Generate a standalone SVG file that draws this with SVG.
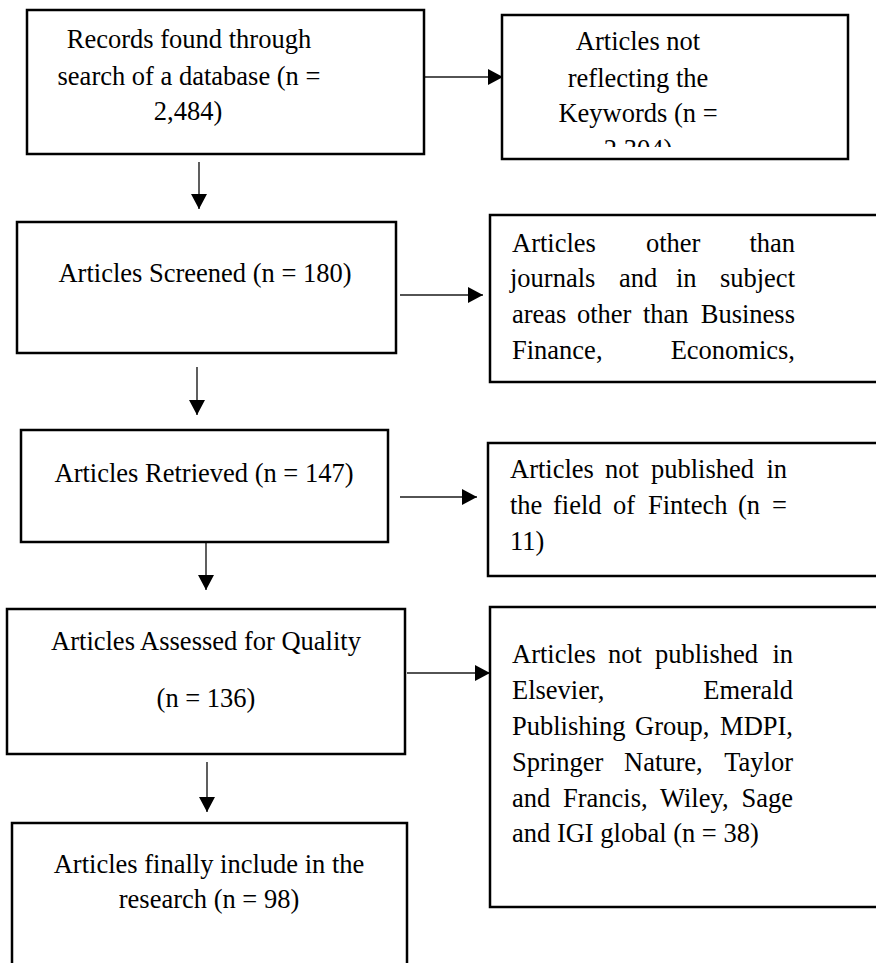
<svg xmlns="http://www.w3.org/2000/svg" width="876" height="963" viewBox="0 0 876 963">
<style>
.box{fill:#fff;stroke:#000;stroke-width:2.5}
.t{font-family:"Liberation Serif","Times New Roman",serif;font-size:26.5px;fill:#000}
.c{text-anchor:middle}
.ln{stroke:#1a1a1a;stroke-width:1.4;fill:none}
</style>
<defs>
<marker id="ah" markerWidth="16" markerHeight="16" refX="15" refY="8" orient="auto" markerUnits="userSpaceOnUse">
<path d="M0,0 L15,8 L0,16 Z" fill="#000"/>
</marker>
<clipPath id="clip2"><rect x="503" y="16" width="344" height="131"/></clipPath>
</defs>
<rect width="876" height="963" fill="#fff"/>
<g id="connectors">
<line class="ln" x1="425" y1="77" x2="503" y2="77" marker-end="url(#ah)"/>
<line class="ln" x1="199" y1="162" x2="199" y2="209" marker-end="url(#ah)"/>
<line class="ln" x1="400" y1="295" x2="483" y2="295" marker-end="url(#ah)"/>
<line class="ln" x1="197" y1="367" x2="197" y2="415" marker-end="url(#ah)"/>
<line class="ln" x1="400" y1="497" x2="477" y2="497" marker-end="url(#ah)"/>
<line class="ln" x1="206" y1="543" x2="206" y2="590" marker-end="url(#ah)"/>
<line class="ln" x1="407" y1="673" x2="490" y2="673" marker-end="url(#ah)"/>
<line class="ln" x1="207" y1="762" x2="207" y2="812" marker-end="url(#ah)"/>
</g>
<g id="n1">
<rect class="box" x="27" y="10" width="397" height="144"/>
<text class="t c" x="189" y="48">Records found through</text>
<text class="t c" x="189" y="85">search of a database (n =</text>
<text class="t c" x="188" y="120">2,484)</text>
</g>
<g id="n2">
<rect class="box" x="502" y="15" width="346" height="144"/>
<g clip-path="url(#clip2)">
<text class="t c" x="638" y="50">Articles not</text>
<text class="t c" x="638" y="87">reflecting the</text>
<text class="t c" x="638" y="122">Keywords (n =</text>
<text class="t c" x="638" y="158">2,304)</text>
</g>
</g>
<g id="n3">
<rect class="box" x="17" y="222" width="379" height="131"/>
<text class="t c" x="205" y="282">Articles Screened (n = 180)</text>
</g>
<g id="n4">
<rect class="box" x="490" y="215" width="390" height="167"/>
<text class="t"><tspan x="512" y="252">Articles</tspan><tspan x="646" y="252">other</tspan><tspan x="795" y="252" text-anchor="end">than</tspan></text>
<text class="t"><tspan x="510" y="287">journals</tspan><tspan x="619" y="287">and</tspan><tspan x="676" y="287">in</tspan><tspan x="795" y="287" text-anchor="end">subject</tspan></text>
<text class="t"><tspan x="512" y="323">areas</tspan><tspan x="577" y="323">other</tspan><tspan x="643" y="323">than</tspan><tspan x="795" y="323" text-anchor="end">Business</tspan></text>
<text class="t"><tspan x="512" y="359">Finance,</tspan><tspan x="795" y="359" text-anchor="end">Economics,</tspan></text>
</g>
<g id="n5">
<rect class="box" x="21" y="430" width="367" height="112"/>
<text class="t c" x="204" y="482">Articles Retrieved (n = 147)</text>
</g>
<g id="n6">
<rect class="box" x="488" y="443" width="392" height="133"/>
<text class="t"><tspan x="510" y="478">Articles</tspan><tspan x="605" y="478">not</tspan><tspan x="651" y="478">published</tspan><tspan x="787" y="478" text-anchor="end">in</tspan></text>
<text class="t"><tspan x="510" y="514">the</tspan><tspan x="553" y="514">field</tspan><tspan x="613" y="514">of</tspan><tspan x="648" y="514">Fintech</tspan><tspan x="738" y="514">(n</tspan><tspan x="787" y="514" text-anchor="end">=</tspan></text>
<text class="t" x="510" y="550">11)</text>
</g>
<g id="n7">
<rect class="box" x="7" y="609" width="398" height="145"/>
<text class="t c" x="206" y="650">Articles Assessed for Quality</text>
<text class="t c" x="206" y="707">(n = 136)</text>
</g>
<g id="n8">
<rect class="box" x="490" y="607" width="390" height="300"/>
<text class="t"><tspan x="512" y="663">Articles</tspan><tspan x="608" y="663">not</tspan><tspan x="655" y="663">published</tspan><tspan x="793" y="663" text-anchor="end">in</tspan></text>
<text class="t"><tspan x="512" y="699">Elsevier,</tspan><tspan x="793" y="699" text-anchor="end">Emerald</tspan></text>
<text class="t"><tspan x="512" y="735">Publishing</tspan><tspan x="635" y="735">Group,</tspan><tspan x="793" y="735" text-anchor="end">MDPI,</tspan></text>
<text class="t"><tspan x="512" y="771">Springer</tspan><tspan x="624" y="771">Nature,</tspan><tspan x="793" y="771" text-anchor="end">Taylor</tspan></text>
<text class="t"><tspan x="512" y="807">and</tspan><tspan x="563" y="807">Francis,</tspan><tspan x="660" y="807">Wiley,</tspan><tspan x="793" y="807" text-anchor="end">Sage</tspan></text>
<text class="t" x="512" y="842">and IGI global (n = 38)</text>
</g>
<g id="n9">
<rect class="box" x="12" y="823" width="395" height="160"/>
<text class="t c" x="209" y="873">Articles finally include in the</text>
<text class="t c" x="209" y="908">research (n = 98)</text>
</g>
</svg>
